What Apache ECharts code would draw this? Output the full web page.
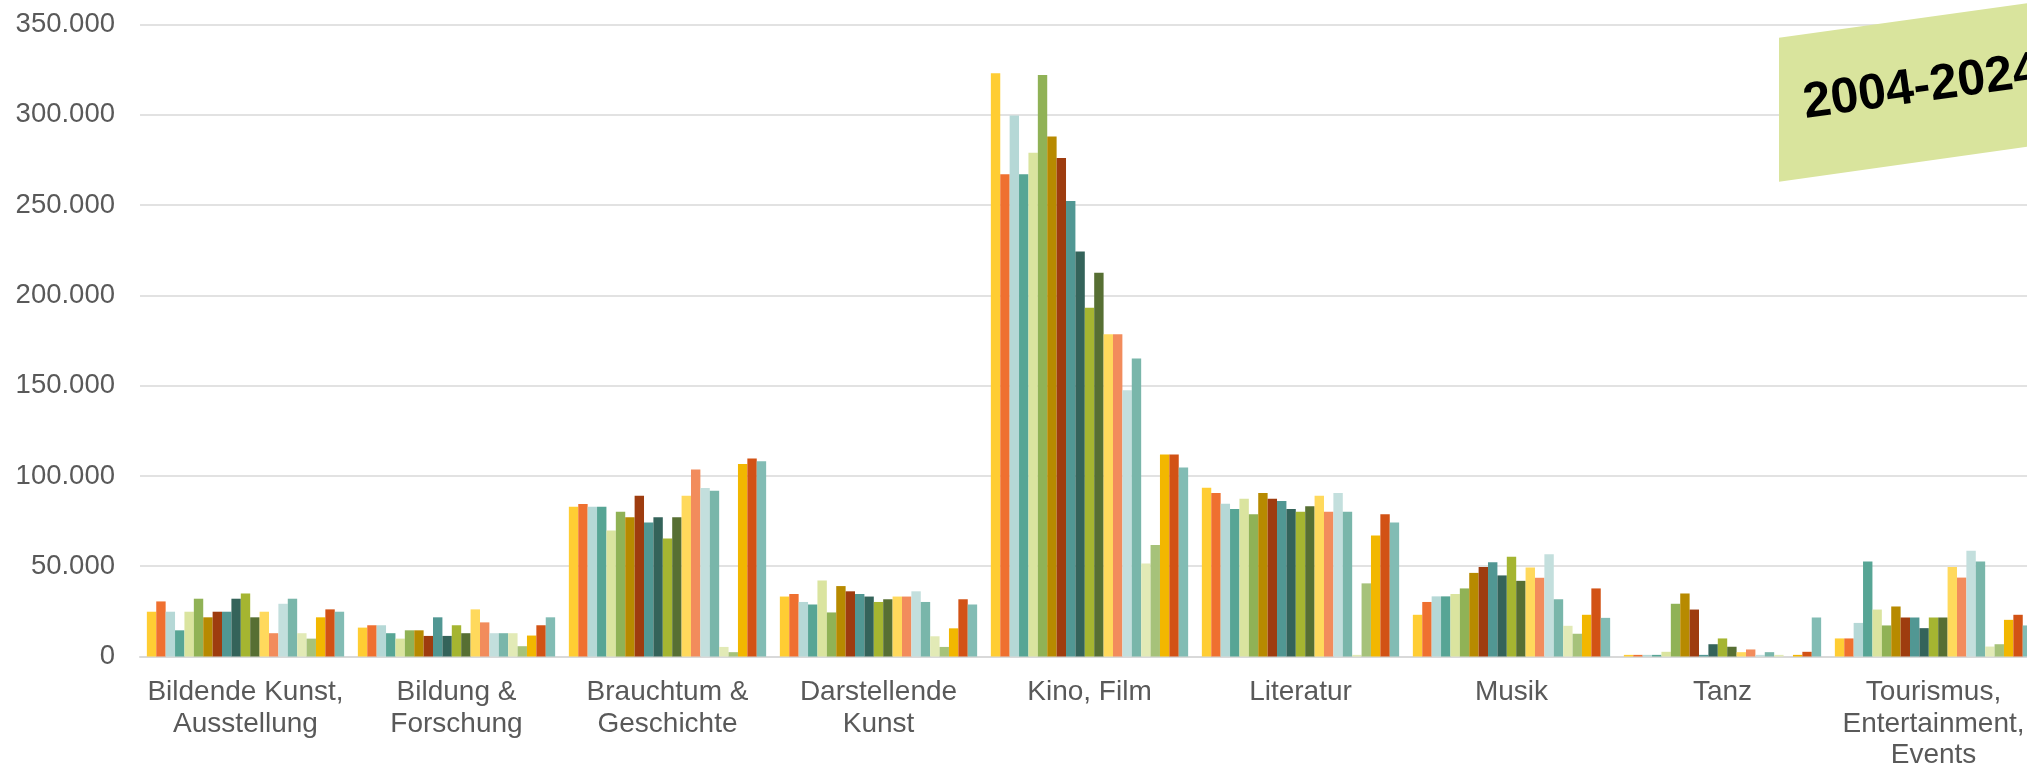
<!DOCTYPE html>
<html>
<head>
<meta charset="utf-8">
<script src="https://cdn.jsdelivr.net/npm/echarts@6/dist/echarts.min.js"></script>
<style>
html,body{margin:0;padding:0;background:#fff;}
#chart{width:2027px;height:766px;}
</style>
</head>
<body>
<div id="chart"></div>
<script>
const categories = ['Bildende Kunst,\nAusstellung', 'Bildung &\nForschung', 'Brauchtum &\nGeschichte', 'Darstellende\nKunst', 'Kino, Film', 'Literatur', 'Musik', 'Tanz', 'Tourismus,\nEntertainment,\nEvents'];
const years = ['2004','2005','2006','2007','2008','2009','2010','2011','2012','2013','2014','2015','2016','2017','2018','2019','2020','2021','2022','2023','2024'];
const yTicks = [0, 50000, 100000, 150000, 200000, 250000, 300000, 350000];
const bannerText = '2004-2024';

// values per year, in category order
const v2004 = [24800, 16000, 83000, 33200, 323000, 93400, 23100, 900, 10000];
const v2005 = [30500, 17300, 84500, 34600, 267000, 90500, 30200, 900, 10000];
const v2006 = [24800, 17300, 83000, 30200, 299600, 84600, 33300, 900, 18600];
const v2007 = [14500, 12900, 83000, 28800, 267000, 81700, 33300, 900, 52600];
const v2008 = [24800, 9900, 69800, 42100, 279000, 87400, 34600, 2600, 26000];
const v2009 = [32000, 14500, 80100, 24400, 322000, 78800, 37700, 29200, 17200];
const v2010 = [21700, 14500, 77100, 39000, 288000, 90500, 46300, 34900, 27700];
const v2011 = [24800, 11400, 89000, 36100, 276000, 87400, 49500, 26000, 21600];
const v2012 = [24800, 21700, 74200, 34600, 252300, 86100, 52200, 900, 21600];
const v2013 = [32000, 11400, 77100, 33200, 224300, 81700, 44900, 6800, 15700];
const v2014 = [34900, 17300, 65400, 30200, 193200, 80200, 55300, 10000, 21600];
const v2015 = [21700, 12900, 77100, 31700, 212500, 83200, 41900, 5400, 21600];
const v2016 = [24800, 26100, 89000, 33200, 178500, 89000, 49300, 2400, 49600];
const v2017 = [12900, 18900, 103500, 33200, 178500, 80200, 43600, 3900, 43700];
const v2018 = [29200, 12900, 93300, 36100, 147400, 90500, 56600, 900, 58500];
const v2019 = [32000, 12900, 91800, 30200, 165100, 80200, 31700, 2400, 52600];
const v2020 = [12900, 12900, 5300, 11200, 51500, 900, 17000, 900, 5500];
const v2021 = [9900, 5700, 2400, 5300, 61800, 40500, 12600, 0, 6800];
const v2022 = [21700, 11600, 106600, 15600, 111900, 67000, 23100, 900, 20300];
const v2023 = [26100, 17300, 109600, 31700, 111900, 78800, 37700, 2600, 23100];
const v2024 = [24800, 21700, 108100, 28800, 104700, 74200, 21400, 21600, 17200];

const seriesValues = [v2004, v2005, v2006, v2007, v2008, v2009, v2010, v2011, v2012, v2013, v2014, v2015, v2016, v2017, v2018, v2019, v2020, v2021, v2022, v2023, v2024];
const colors = ['#FFCD33', '#EF7030', '#B5D8D6', '#57A595', '#DAE49F', '#90B256', '#B78A00', '#9E3C0F', '#519793', '#34635A', '#A5B531', '#576F33', '#FFD95C', '#F28C5C', '#C3DFDD', '#79B6AA', '#E2EAB6', '#A6C27A', '#F2B700', '#D25215', '#82BCB4'];

function fmt(v){ return String(v).replace(/\B(?=(\d{3})+(?!\d))/g, '.'); }

const chart = echarts.init(document.getElementById('chart'), null, {renderer: 'canvas'});
const series = years.map((y, i) => ({
  name: y,
  type: 'bar',
  data: seriesValues[i],
  barGap: '0%',
  barCategoryGap: '6.5%',
  itemStyle: {color: colors[i]},
  animation: false
}));

chart.setOption({
  animation: false,
  backgroundColor: '#ffffff',
  color: colors,
  grid: {left: 140, top: 24.5, width: 1899, height: 632, containLabel: false, outerBoundsMode: 'none'},
  xAxis: {
    type: 'category',
    data: categories,
    axisTick: {show: false},
    axisLine: {lineStyle: {color: '#d9d9d9', width: 2}},
    axisLabel: {interval: 0, color: '#595959', fontSize: 28, lineHeight: 31.7, margin: 20, fontFamily: 'Liberation Sans, Arial, sans-serif'}
  },
  yAxis: {
    type: 'value',
    min: yTicks[0],
    max: yTicks[yTicks.length - 1],
    interval: yTicks[1] - yTicks[0],
    axisLine: {show: false},
    axisTick: {show: false},
    splitLine: {lineStyle: {color: '#d9d9d9', width: 1.5}},
    axisLabel: {color: '#595959', fontSize: 27.5, margin: 25, fontFamily: 'Liberation Sans, Arial, sans-serif', formatter: fmt}
  },
  series: series,
  graphic: [
    {
      type: 'polygon',
      z: 100,
      shape: {points: [[1779, 37.7], [2110, -8.3], [2110, 135], [1779, 181.7]]},
      style: {fill: '#D9E49D'}
    },
    {
      type: 'text',
      z: 101,
      x: 1807,
      y: 129,
      rotation: 0.139,
      style: {text: bannerText, font: 'bold 50px "Liberation Sans", Arial, sans-serif', fill: '#000000', textVerticalAlign: 'bottom', textAlign: 'left'}
    }
  ]
});
</script>
</body>
</html>
